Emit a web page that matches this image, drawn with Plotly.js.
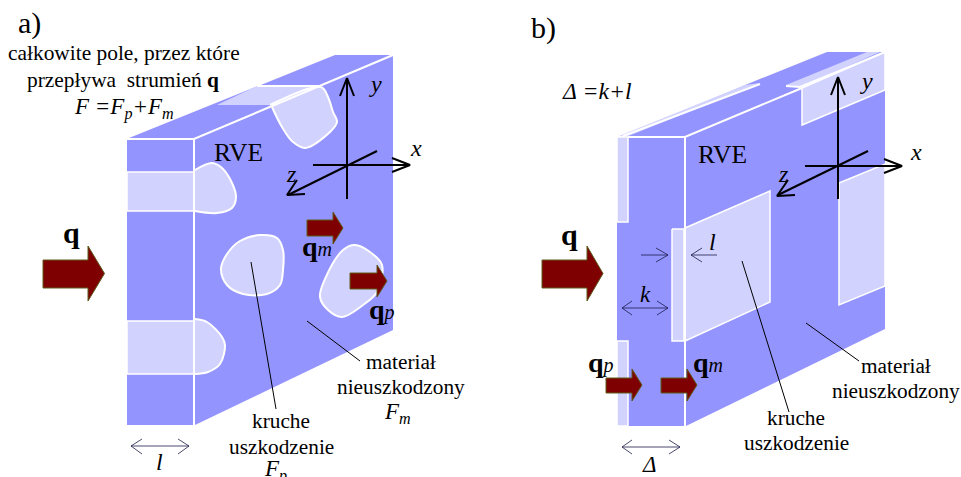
<!DOCTYPE html>
<html><head><meta charset="utf-8">
<script src="https://cdn.plot.ly/plotly-3.0.1.min.js"></script>
<style>html,body{margin:0;padding:0;background:#fff}</style>
</head><body><div id="chart" style="width:961px;height:477px"></div>
<script>
const BLUE='#9494ff', LIGHT='#d2d2ff', WHITE='#ffffff', RED='#7f0000', OLIVE='#5c5c1c', FONT='"Liberation Serif","Times New Roman",serif';

// panel a geometry
const aFront=[[127,139],[194,139],[194,425],[127,425]];
const aSide=[[195,138],[393,55],[393,330],[195,425]];
const aTop=[[129,138],[335,55],[393,55],[195,138]];
const aTopDamage=[[217,105],[257,86],[320,86],[270,105]];
const aBlobTop=[[270,105],[321,87],[328,97],[333,112],[337,122],[330,132],[305,148],[293,142],[282,127],[272,107]];
const aSlot1=[[127,172],[194,172],[194,211],[127,211]];
const aBlobSlot1=[[195,170],[212,163],[222,168],[232,183],[236,197],[232,208],[217,213],[195,211]];
const aBlobMid=[[221,269],[227,254],[240,241],[260,235],[277,238],[283,250],[283,270],[280,285],[267,294],[243,294],[227,285],[221,269]];
const aBlobRight=[[355,245],[370,252],[382,265],[377,292],[363,305],[342,317],[328,310],[320,297],[325,279],[343,250],[355,245]];
const aSlot2=[[127,321],[194,321],[194,374],[127,374]];
const aBlobSlot2=[[195,319],[207,322],[222,337],[225,345],[220,364],[208,372],[195,374]];
const aEdges=[[[127,139],[194,139],[393,55]],[[194,139],[194,425]],[[257,86],[320,86]]];

// panel b geometry
const bFront=[[617,137],[685,137],[685,426],[617,426]];
const bSide=[[686,137],[885,52],[885,329],[686,426]];
const bTop=[[623,137],[750,83],[827,52],[885,52],[685,137]];
const bStripLeft=[[619,136],[745,85],[760,83],[626,137]];
const bStripRight=[[786,85],[867,52],[880,52],[800,87]];
const bWall1=[[617,137],[628,137],[628,222],[617,222]];
const bWall2=[[617,341],[628,341],[628,426],[617,426]];
const bSlot=[[672,229],[684,229],[684,341],[672,341]];
const bPanel1=[[685,228],[770,191],[770,302],[685,341]];
const bPanel2=[[839,183],[885,164],[885,286],[839,305]];
const bPanel3=[[802,88],[885,52],[885,90],[802,125]];
const bEdges=[[[628,137],[685,137],[802,88]],[[685,137],[685,426]],[[623,136],[760,84]],[[786,86],[800,87],[885,52]]];

// block arrows [x0, xHead, xTip, yBodyTop, yBodyBottom, yHeadTop, yHeadBottom]
const blockArrows=[[43,88,104.5,260,288,246,301],[307,333,343,220,236,212,244],[350,377,387,273,289,265,297],
 [542,587,603,260,288,246,301],[606,632,642,378,393,369,401],[661,687,697,378,393,369,401]];

// axis crosses: [line, head]
const axisLinesA=[[[347,199],[347,79]],[[313,165],[409,165]],[[377,151],[288,195]]];
const axisHeadsA=[[[340,96],[347,78],[354,96]],[[392,158],[410,165],[392,172]],[[297,180],[287,195],[305,194]]];
const axisLinesB=[[[838,199],[838,78]],[[805,166],[901,166]],[[868,151],[778,195]]];
const axisHeadsB=[[[831,95],[838,77],[845,95]],[[884,159],[902,166],[884,173]],[[788,180],[777,196],[795,195]]];

// thin lines
const leaders=[[[251,262],[276,409]],[[307,321],[360,361]],[[742,261],[789,412]],[[806,323],[859,361]]];
const dimLines=[
 [[142,439],[131,446],[142,454]],[[131,446],[189,446]],[[178,439],[189,446],[178,454]],
 [[641,255],[668,255]],[[656,248],[668,255],[656,262]],
 [[717,255],[691,255]],[[702,248],[691,255],[702,262]],
 [[632,301],[622,308],[632,315]],[[622,308],[668,308]],[[657,301],[668,308],[657,315]],
 [[632,440],[622,447],[632,454]],[[622,447],[680,447]],[[669,440],[680,447],[669,454]]];

// text
const subM='<b>q</b><span style="font-size:20px"><i>m</i></span>';
const subP='<b>q</b><span style="font-size:20px"><i>p</i></span>';
const labelTexts=['a)','całkowite pole, przez które','przepływa&nbsp; strumień <b>q</b>','<i>F =F<sub>p</sub>+F<sub>m</sub></i>','RVE','<i>x</i>','<i>y</i>','<i>z</i>',
 '<b>q</b>',subM,subP,'materiał','nieuszkodzony','<i>F<sub>m</sub></i>','kruche','uszkodzenie','<i>F<sub>p</sub></i>','<i>l</i>',
 'b)','<i>Δ =k+l</i>','RVE','<i>x</i>','<i>y</i>','<i>z</i>','<b>q</b>','<i>l</i>','<i>k</i>',subP,subM,'materiał','nieuszkodzony','kruche','uszkodzenie','<i>Δ</i>'];
const labelX=[29,124,123,124,238,416,375,291,71,317,382,401,401,397,281,281,275,159,543,597,722,916,866,783,569,712,645,601,708,896,896,796,796,649];
const labelY=[23,53,80,108,152,148,84,174,232,246,309,362,387,413,421,447,470,462,28,91,154,152,81,174,234,242,294,362,362,366,391,418,443,464];
const labelSizes=[30,21.4,21.4,23,25.5,24,24,24,30,28,28,21.3,21.3,23,21.3,21.3,23,24,30,23.7,25.5,24,24,24,30,24,23,28,28,21.3,21.3,21.3,21.3,23];

const traces=[];
function poly(pts,fill,line,w){
  traces.push({type:'scatter',mode:'lines',x:pts.map(p=>p[0]).concat(pts[0][0]),y:pts.map(p=>p[1]).concat(pts[0][1]),
    fill:'toself',fillcolor:fill,line:{color:line||fill,width:line?(w||1.5):0},hoverinfo:'skip'});
}
function blob(pts,fill,line,w){
  traces.push({type:'scatter',mode:'lines',x:pts.map(p=>p[0]),y:pts.map(p=>p[1]),
    fill:'toself',fillcolor:fill,line:{color:line,width:w,shape:'spline',smoothing:1},hoverinfo:'skip'});
}
function path(pts,color,w){
  traces.push({type:'scatter',mode:'lines',x:pts.map(p=>p[0]),y:pts.map(p=>p[1]),line:{color:color,width:w},hoverinfo:'skip'});
}
[aFront,aSide,aTop].forEach(p=>poly(p,BLUE));
poly(aTopDamage,LIGHT);
poly(aSlot1,LIGHT,WHITE,1.5); poly(aSlot2,LIGHT,WHITE,1.5);
[aBlobTop,aBlobSlot1,aBlobMid,aBlobRight,aBlobSlot2].forEach(p=>blob(p,LIGHT,WHITE,2));
aEdges.forEach(p=>path(p,WHITE,2));

[bFront,bSide,bTop].forEach(p=>poly(p,BLUE));
[bStripLeft,bStripRight].forEach(p=>poly(p,LIGHT));
[bWall1,bWall2,bSlot,bPanel1,bPanel2,bPanel3].forEach(p=>poly(p,LIGHT,WHITE,1.5));
bEdges.forEach(p=>path(p,WHITE,2));

leaders.forEach(p=>path(p,'#000000',1));
blockArrows.forEach(a=>{
  const [x0,xh,xt,yb0,yb1,yh0,yh1]=a;
  poly([[x0,yb0],[xh,yb0],[xh,yh0],[xt,(yh0+yh1)/2],[xh,yh1],[xh,yb1],[x0,yb1]],RED,OLIVE,1);
});
axisLinesA.concat(axisHeadsA,axisLinesB,axisHeadsB).forEach(p=>path(p,'#000000',2));
dimLines.forEach(p=>path(p,'#1c1c4a',0.8));

const annotations=labelTexts.map((t,i)=>({text:t,x:labelX[i],y:labelY[i],xref:'x',yref:'y',showarrow:false,
  xanchor:'center',yanchor:'middle',font:{family:FONT,size:labelSizes[i],color:'#000000'}}));

Plotly.newPlot('chart',traces,{
  width:961,height:477,margin:{l:0,r:0,t:0,b:0},showlegend:false,
  paper_bgcolor:'#ffffff',plot_bgcolor:'#ffffff',
  xaxis:{range:[0,961],visible:false,fixedrange:true},
  yaxis:{range:[477,0],visible:false,fixedrange:true},
  annotations:annotations
},{staticPlot:true,displayModeBar:false});
</script></body></html>
